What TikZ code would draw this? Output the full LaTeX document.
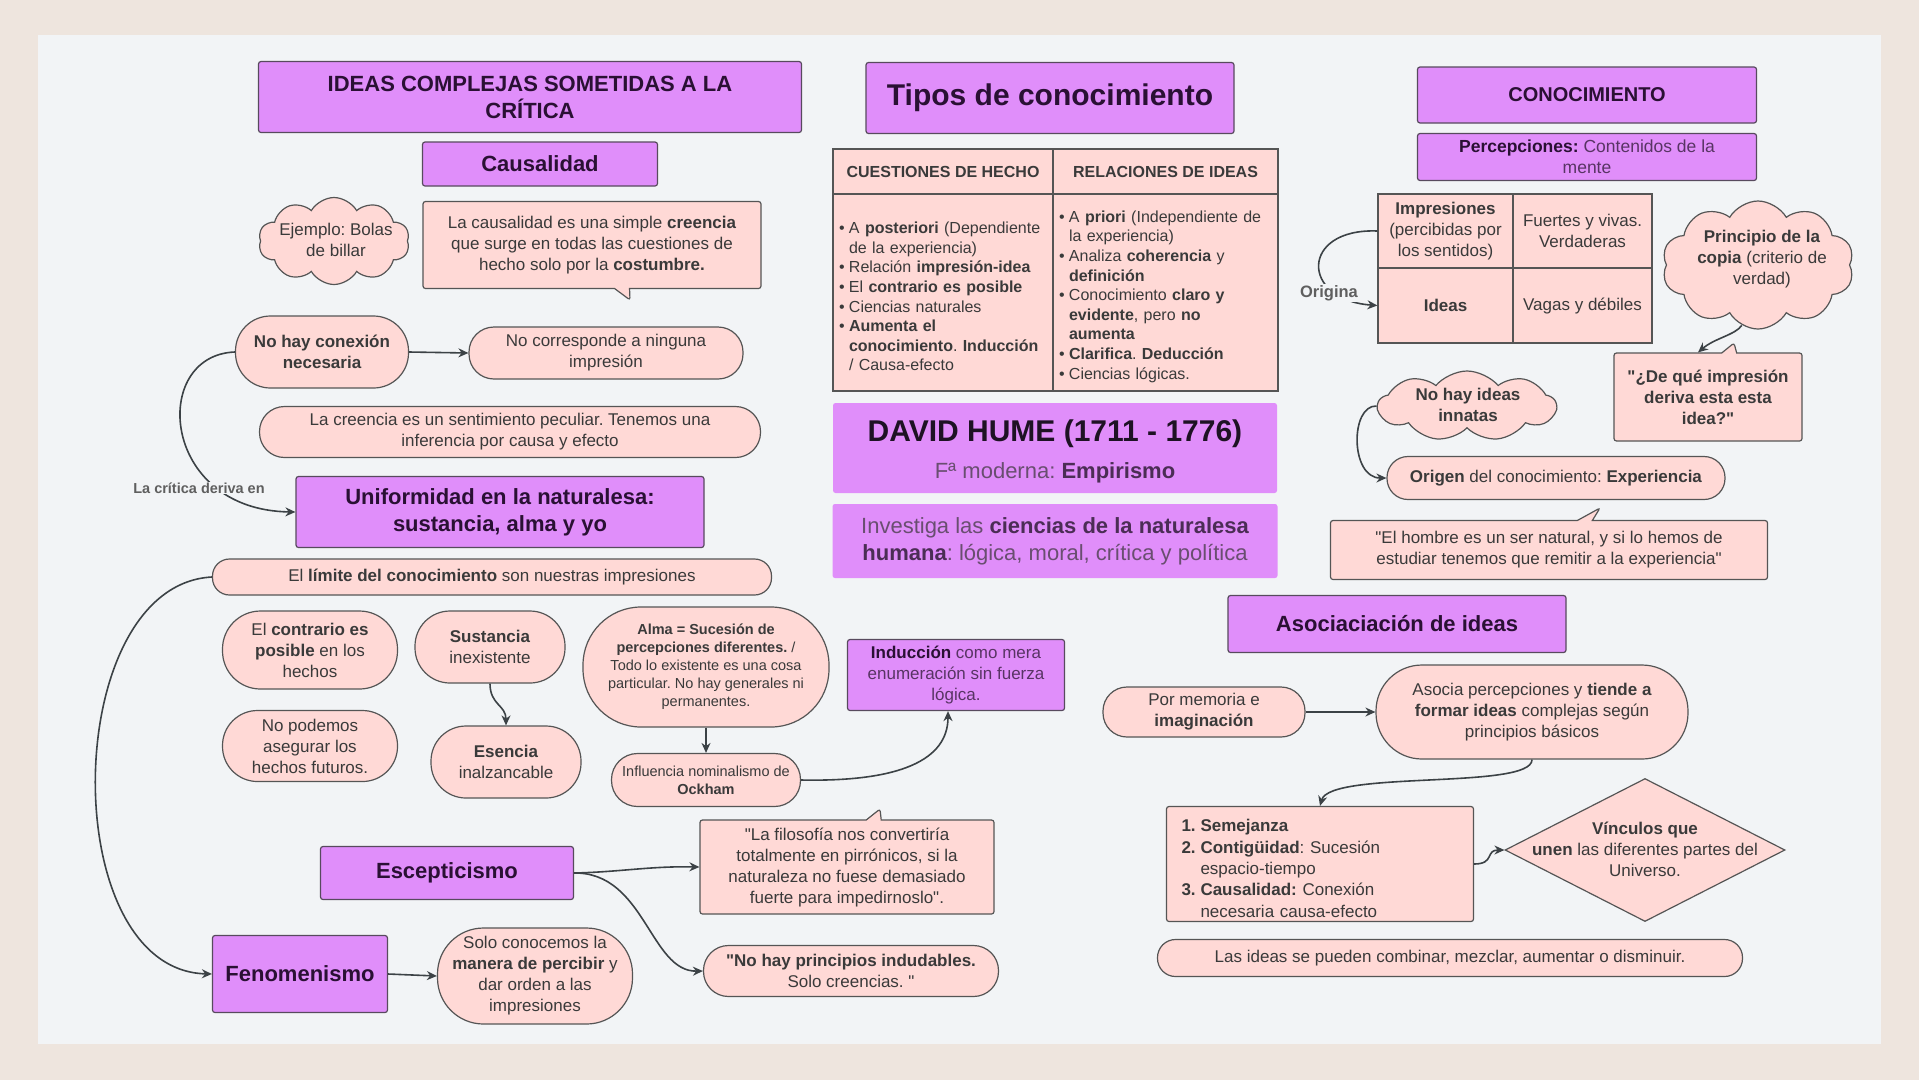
\documentclass[tikz,border=0pt]{standalone}
\usepackage{fontspec}
\setmainfont{Liberation Sans}[Ligatures=TeXOff]
\usetikzlibrary{arrows.meta,shapes.geometric,shapes.symbols,shapes.callouts}
\definecolor{bgout}{RGB}{238,229,222}
\definecolor{panel}{RGB}{242,244,246}
\definecolor{purp}{RGB}{224,142,250}
\definecolor{pink}{RGB}{255,217,214}
\definecolor{pborder}{RGB}{88,74,94}
\definecolor{kborder}{RGB}{85,85,85}
\definecolor{ptext}{RGB}{42,16,52}
\definecolor{btext}{RGB}{58,58,58}
\definecolor{acol}{RGB}{60,66,70}
\definecolor{lgray}{RGB}{95,95,95}
\definecolor{hsub}{RGB}{105,78,112}
\definecolor{hbold}{RGB}{75,45,85}
\definecolor{htitle}{RGB}{30,18,36}
\definecolor{indc}{RGB}{88,52,100}
\newcommand\fbody{\fontsize{17}{21}\selectfont}
\newcommand\ftitle{\fontsize{22}{27}\selectfont\bfseries}
\newcommand\fsmall{\fontsize{14.5}{18}\selectfont}
\newcommand\ftab{\fontsize{16}{19.6}\selectfont}
\newcommand\bul[1]{\par{\let\\\newline\hangindent=10pt\hangafter=1\noindent\makebox[10pt][l]{\textbullet}#1\par}}
\newcommand\numit[2]{\par{\let\\\newline\hangindent=19pt\hangafter=1\noindent\makebox[19pt][l]{\textbf{#1}}#2\par}}
\newcommand\hb[1]{\textbf{\color{hbold}#1}}
\frenchspacing
\tikzset{
 sz/.style 2 args={minimum width=#1pt, minimum height=#2pt},
 pbox/.style={draw=pborder, fill=purp, line width=1.2pt, rounded corners=2.5pt, align=center, text=ptext, inner sep=0pt},
 hbox/.style={fill=purp, rounded corners=2.5pt, align=center, inner sep=0pt},
 kbox/.style={draw=kborder, fill=pink, line width=1.2pt, rounded corners=2.5pt, align=center, text=btext, inner sep=0pt},
 pill/.style={kbox, rounded corners=#1pt},
 kcloud/.style={cloud, cloud puffs=10, cloud puff arc=120, cloud ignores aspect, draw=kborder, fill=pink, line width=1.2pt, inner sep=0pt},
 kcall/.style={rectangle callout, kbox, callout pointer width=15pt},
 cell/.style={draw=kborder, fill=pink, line width=1.2pt, align=center, text=btext, inner sep=0pt},
 arr/.style={draw=acol, line width=1.6pt, -{Stealth[length=10pt,width=9pt]}},
 lbl/.style={text=lgray, fill=panel, inner sep=1pt},
 txt/.style={text=btext, align=center, inner sep=0pt},
}
\begin{document}
\begin{tikzpicture}[x=1pt,y=-1pt]
\fill[bgout] (0,0) rectangle (1919,1080);
\fill[panel] (38,35) rectangle (1881,1044);
\useasboundingbox (0,0) rectangle (1919,1080);

% ---------- left column ----------
\node[pbox, sz={543}{71}, font=\ftitle] (ideas) at (530,97) {IDEAS COMPLEJAS SOMETIDAS A LA\\CRÍTICA};
\node[pbox, sz={235}{44}, font=\ftitle] (causal) at (540,164) {Causalidad};
\node[kcloud, sz={151}{87}] (ejemplo) at (334,241) {};
\node[txt, font=\fbody] (ejemploT) at (336,240) {Ejemplo: Bolas\\de billar};
\node[kcall, sz={338}{87}, font=\fbody, callout absolute pointer={(630,300)}] (causcall) at (592,245) {La causalidad es una simple \textbf{creencia}\\que surge en todas las cuestiones de\\hecho solo por la \textbf{costumbre.}};
\node[pill=35, sz={173}{72}, font=\fbody\bfseries] (nohay) at (322,352) {No hay conexión\\necesaria};
\node[pill=25, sz={274}{52}, font=\fbody] (nocorr) at (606,353) {No corresponde a ninguna\\impresión};
\node[pill=25, sz={501}{51}, font=\fbody] (creencia) at (510,432) {La creencia es un sentimiento peculiar. Tenemos una\\inferencia por causa y efecto};
\node[pbox, sz={408}{71}, font=\ftitle] (unif) at (500,512) {Uniformidad en la naturalesa:\\sustancia, alma y yo};
\node[pill=17, sz={559}{36}, font=\fbody] (limite) at (492,577) {El \textbf{límite del conocimiento} son nuestras impresiones};
\node[pill=38, sz={175}{78}, font=\fbody] (contrario) at (310,650) {El \textbf{contrario es}\\\textbf{posible} en los\\hechos};
\node[pill=35, sz={150}{72}, font=\fbody] (sustancia) at (490,647) {\textbf{Sustancia}\\inexistente};
\node[pill=35, sz={175}{71}, font=\fbody] (nopodemos) at (310,746) {No podemos\\asegurar los\\hechos futuros.};
\node[pill=35, sz={150}{72}, font=\fbody] (esencia) at (506,762) {\textbf{Esencia}\\inalzancable};
\node[pill=58, sz={246}{120}, font=\fsmall] (alma) at (706,667) {\textbf{Alma = Sucesión de}\\\textbf{percepciones diferentes.} /\\Todo lo existente es una cosa\\particular. No hay generales ni\\permanentes.};
\node[pill=26, sz={189}{53}, font=\fsmall] (influencia) at (706,780) {Influencia nominalismo de\\\textbf{Ockham}};
\node[pbox, sz={217}{71}, font=\fbody, text=indc] (induccion) at (956,675) {\textbf{\color{ptext}Inducción} como mera\\enumeración sin fuerza\\lógica.};
\node[kcall, sz={294}{94}, font=\fbody, callout absolute pointer={(880,809)}] (filos) at (847,867) {"La filosofía nos convertiría\\totalmente en pirrónicos, si la\\naturaleza no fuese demasiado\\fuerte para impedirnoslo".};
\node[pbox, sz={253}{53}, font=\ftitle] (escep) at (447,873) {Escepticismo};
\node[pill=25, sz={295}{51}, font=\fbody] (noprinc) at (851,971) {\textbf{"No hay principios indudables.}\\Solo creencias. "};
\node[pbox, sz={175}{77}, font=\ftitle] (fenom) at (300,974) {Fenomenismo};
\node[pill=46, sz={195}{96}, font=\fbody] (solo) at (535,976) {Solo conocemos la\\\textbf{manera de percibir} y\\dar orden a las\\impresiones};

% ---------- middle column ----------
\node[pbox, sz={368}{71}, font=\fontsize{30}{36}\selectfont\bfseries] (tipos) at (1050,98) {Tipos de conocimiento};
\node[cell, sz={220}{45}, font=\ftab\bfseries] (th1) at (943,171.5) {CUESTIONES DE HECHO};
\node[cell, sz={225}{45}, font=\ftab\bfseries] (th2) at (1165.5,171.5) {RELACIONES DE IDEAS};
\node[cell, sz={220}{197}, font=\ftab, text width=208pt, inner xsep=6pt, align=left] (tb1) at (943,292.5) {%
\bul{A \textbf{posteriori} (Dependiente\\de la experiencia)}%
\bul{Relación \textbf{impresión-idea}}%
\bul{El \textbf{contrario es posible}}%
\bul{Ciencias naturales}%
\bul{\textbf{Aumenta el}\\\textbf{conocimiento}. \textbf{Inducción}\\/ Causa-efecto}};
\node[cell, sz={225}{197}, font=\ftab, text width=213pt, inner xsep=6pt, align=left] (tb2) at (1165.5,292.5) {%
\bul{A \textbf{priori} (Independiente de\\la experiencia)}%
\bul{Analiza \textbf{coherencia} y\\\textbf{definición}}%
\bul{Conocimiento \textbf{claro y}\\\textbf{evidente}, pero \textbf{no}\\\textbf{aumenta}}%
\bul{\textbf{Clarifica}. \textbf{Deducción}}%
\bul{Ciencias lógicas.}};
\node[hbox, sz={444}{90}] (hume) at (1055,448) {};
\node[font=\fontsize{30}{36}\selectfont\bfseries, text=htitle, inner sep=0pt] (humeT) at (1055,434) {DAVID HUME (1711 - 1776)};
\node[font=\fontsize{22}{27}\selectfont, text=hsub, inner sep=0pt] (humeS) at (1055,473) {Fª moderna: \hb{Empirismo}};
\node[hbox, sz={445}{74}, font=\fontsize{22}{27}\selectfont, text=hsub] (invest) at (1055,541) {Investiga las \hb{ciencias de la naturalesa}\\\hb{humana}: lógica, moral, crítica y política};

% ---------- right column ----------
\node[pbox, sz={339}{56}, font=\fontsize{20}{24}\selectfont\bfseries] (conoc) at (1587,95) {CONOCIMIENTO};
\node[pbox, sz={339}{47}, font=\fontsize{17.5}{21}\selectfont, text=indc] (percep) at (1587,157) {\textbf{\color{ptext}Percepciones:} Contenidos de la\\mente};
\node[cell, sz={135}{74}, font=\fbody] (t2imp) at (1445.5,231) {\textbf{Impresiones}\\(percibidas por\\los sentidos)};
\node[cell, sz={139}{74}, font=\fbody] (t2fue) at (1582.5,231) {Fuertes y vivas.\\Verdaderas};
\node[cell, sz={135}{75}, font=\fbody\bfseries] (t2ide) at (1445.5,305.5) {Ideas};
\node[cell, sz={139}{75}, font=\fbody] (t2vag) at (1582.5,305.5) {Vagas y débiles};
\node[kcloud, sz={192}{128}] (principio) at (1758,265) {};
\node[txt, font=\fbody] (principioT) at (1762,259) {\textbf{Principio de la}\\\textbf{copia} (criterio de\\verdad)};
\node[kcall, sz={188}{88}, font=\fbody\bfseries, callout absolute pointer={(1734,343)}] (dq) at (1708,397) {"¿De qué impresión\\deriva esta esta\\idea?"};
\node[kcloud, cloud puffs=9, cloud puff arc=100, sz={178}{70}] (nhi) at (1467,406) {};
\node[txt, font=\fbody\bfseries] (nhiT) at (1468,405) {No hay ideas\\innatas};
\node[pill=21, sz={338}{43}, font=\fbody] (origen) at (1556,478) {\textbf{Origen} del conocimiento: \textbf{Experiencia}};
\node[kcall, sz={437}{59}, font=\fbody, callout absolute pointer={(1600,508)}] (hombre) at (1549,550) {"El hombre es un ser natural, y si lo hemos de\\estudiar tenemos que remitir a la experiencia"};
\node[pbox, sz={338}{57}, font=\ftitle] (asoc) at (1397,624) {Asociaciación de ideas};
\node[pill=24, sz={202}{50}, font=\fbody] (memoria) at (1204,712) {Por memoria e\\\textbf{imaginación}};
\node[pill=46, sz={312}{94}, font=\fbody] (asocia) at (1532,712) {Asocia percepciones y \textbf{tiende a}\\\textbf{formar ideas} complejas según\\principios básicos};
\node[kbox, sz={307}{115}, font=\fontsize{17}{21.3}\selectfont, text width=277pt, inner xsep=15pt, align=left] (list) at (1320,864) {%
\numit{1.}{\textbf{Semejanza}}%
\numit{2.}{\textbf{Contigüidad}: Sucesión\\espacio-tiempo}%
\numit{3.}{\textbf{Causalidad:} Conexión\\necesaria causa-efecto}};
\node[diamond, draw=kborder, fill=pink, line width=1.2pt, inner sep=0pt, sz={280}{143}] (diamond) at (1645,850) {};
\node[txt, font=\fbody] (diamondT) at (1645,849) {\textbf{Vínculos que}\\\textbf{unen} las diferentes partes del\\Universo.};
\node[pill=18, sz={585}{37}, font=\fbody] (combinar) at (1450,958) {Las ideas se pueden combinar, mezclar, aumentar o disminuir.};

% ---------- connectors ----------
\draw[arr] (nohay.east) -- (nocorr.west);
\draw[arr] (nohay.west) .. controls (150,355) and (160,510) .. (unif.west);
\node[lbl, font=\fontsize{14.5}{17}\selectfont\bfseries] (critica) at (199,488) {La crítica deriva en};
\draw[arr] (limite.west) .. controls (60,585) and (55,970) .. (fenom.west);
\draw[arr] (sustancia.south) .. controls (490,705) and (506,705) .. (esencia.north);
\draw[arr] (alma.south) -- (influencia.north);
\draw[arr] (influencia.east) .. controls (900,782) and (948,760) .. ([xshift=-8pt]induccion.south);
\draw[arr] (escep.east) .. controls (620,872) and (650,866) .. (filos.west);
\draw[arr] (escep.east) .. controls (645,872) and (650,972) .. (noprinc.west);
\draw[arr] (fenom.east) -- (solo.west);
\draw[arr] (t2imp.west) .. controls (1300,228) and (1300,300) .. (t2ide.west);
\node[lbl, font=\fontsize{16.5}{19}\selectfont\bfseries] (origina) at (1329,293) {Origina};
\draw[arr] (principio.255) .. controls (1735,335) and (1715,338) .. ([xshift=-10pt]dq.north);
\draw[arr] (nhi.west) .. controls (1350,405) and (1350,478) .. (origen.west);
\draw[arr] (memoria.east) -- (asocia.west);
\draw[arr] (asocia.south) .. controls (1532,790) and (1330,770) .. (list.north);
\draw[arr] (list.east) .. controls (1495,864) and (1485,850) .. (diamond.west);
\end{tikzpicture}
\end{document}
